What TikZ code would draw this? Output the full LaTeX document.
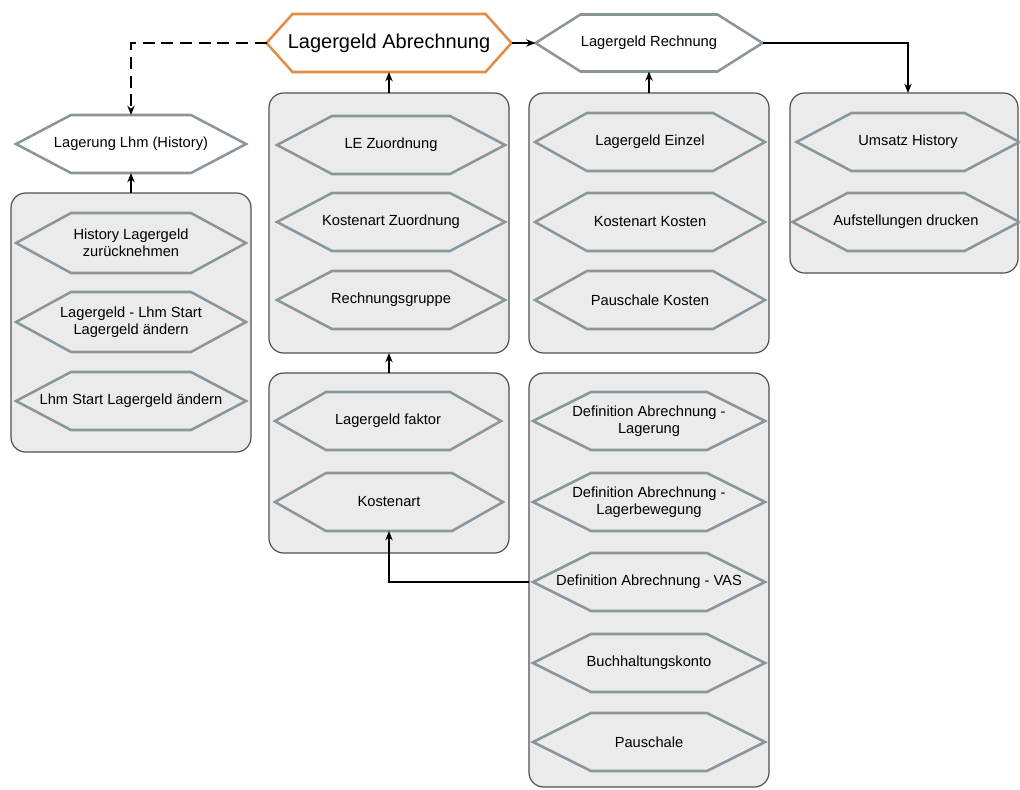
\documentclass[tikz,border=0pt]{standalone}
\usepackage{fontspec}
\setmainfont{Liberation Sans}
\usetikzlibrary{arrows.meta}
\definecolor{hexline}{RGB}{138,150,155}
\definecolor{boxfill}{RGB}{235,235,235}
\definecolor{boxline}{RGB}{80,80,80}
\definecolor{orangeline}{RGB}{226,140,70}

\tikzset{
	hex w/.store in=\hexw, hex h/.store in=\hexh, hex inset/.store in=\hexin,
	hex fill/.store in=\hexfill, hex draw/.store in=\hexdraw,
	hex w=230, hex h=58, hex inset=55, hex fill=boxfill, hex draw=hexline}

% hexagon with a named node on top: [keys]{name}{x,y}{text}
\newcommand{\hexnode}[4][]{%
	\begin{scope}[font=\fontsize{11}{13}\selectfont, #1]
		\draw[draw=\hexdraw, fill=\hexfill, line width=1.9pt, shift={(#3)}]
			(-\hexw/2,0) -- (-\hexw/2+\hexin,-\hexh/2) -- (\hexw/2-\hexin,-\hexh/2)
			-- (\hexw/2,0) -- (\hexw/2-\hexin,\hexh/2) -- (-\hexw/2+\hexin,\hexh/2) -- cycle;
		\node[hexa] (#2) at (#3) {#4};
	\end{scope}}

\begin{document}
\begin{tikzpicture}[x=0.75pt,y=-0.75pt,
		hexa/.style={rectangle, inner sep=0pt, outer sep=0pt, align=center,
			minimum width={\hexw*0.75pt}, minimum height={\hexh*0.75pt}},
		grp/.style={draw=boxline, fill=boxfill, line width=0.9pt, rounded corners=11pt,
			inner sep=0pt, outer sep=0pt, minimum width=180pt},
		arr/.style={-{Stealth[length=7pt,width=5.5pt]}, line width=1.1pt}]
	\useasboundingbox (0,0) rectangle (1020,789);

	% boxes
	\node[grp, minimum height=194.25pt] (boxL) at (131,322.5) {};
	\node[grp, minimum height=195pt] (boxM1) at (389,223) {};
	\node[grp, minimum height=135pt] (boxM2) at (389,463) {};
	\node[grp, minimum height=195pt] (boxR1) at (649,223) {};
	\node[grp, minimum height=310.5pt] (boxR2) at (649,580) {};
	\node[grp, minimum height=135pt, minimum width=171pt] (boxF) at (904,183) {};

	% top row
	\hexnode[hex fill=white, hex draw=orangeline, hex w=245, hex inset=26,
		font=\fontsize{15}{18}\selectfont]{abr}{389,43}{Lagergeld Abrechnung}
	\hexnode[hex fill=white, hex w=227, hex h=57, hex inset=45]{rech}{649,43}{Lagergeld Rechnung}
	\hexnode[hex fill=white]{lhm}{131,144}{Lagerung Lhm (History)}

	% left column
	\hexnode[hex h=60]{histlg}{131,243}{History Lagergeld\\zurücknehmen}
	\hexnode[hex h=60]{lgstart}{131,322}{Lagergeld - Lhm Start\\Lagergeld ändern}
	\hexnode{lhmstart}{131,401}{Lhm Start Lagergeld ändern}

	% middle column
	\hexnode[hex w=228]{lezu}{391,145}{LE Zuordnung}
	\hexnode[hex w=228]{kazu}{391,222}{Kostenart Zuordnung}
	\hexnode[hex w=228]{rgrp}{391,300}{Rechnungsgruppe}
	\hexnode[hex w=226, hex inset=51]{faktor}{388,421}{Lagergeld faktor}
	\hexnode[hex w=228, hex inset=51]{kosten}{389,502}{Kostenart}

	% right column
	\hexnode[hex inset=52]{einzel}{650,142}{Lagergeld Einzel}
	\hexnode[hex inset=52]{kakost}{650,222}{Kostenart Kosten}
	\hexnode[hex inset=52]{pkost}{650,300}{Pauschale Kosten}
	\hexnode[hex w=232, hex inset=58]{deflag}{649,421}{Definition Abrechnung -\\Lagerung}
	\hexnode[hex w=232, hex inset=58]{defbew}{649,502}{Definition Abrechnung -\\Lagerbewegung}
	\hexnode[hex w=232, hex inset=58]{vas}{649,582}{Definition Abrechnung - VAS}
	\hexnode[hex w=232, hex inset=58]{konto}{649,663}{Buchhaltungskonto}
	\hexnode[hex w=232, hex inset=58]{pausch}{649,742}{Pauschale}

	% far right
	\hexnode[hex w=223]{umsatz}{908,142}{Umsatz History}
	\hexnode[hex w=227]{aufst}{906,222}{Aufstellungen drucken}

	% connectors
	\draw[arr, dashed, dash pattern=on 9pt off 5pt] (abr.west) -| (lhm.north);
	\draw[arr] (boxL.north) -- (lhm.south);
	\draw[arr] (boxM1.north) -- (abr.south);
	\draw[arr] (boxM2.north) -- (boxM1.south);
	\draw[arr] (abr.east) -- (rech.west);
	\draw[arr] (boxR1.north) -- (rech.south);
	\draw[arr] (rech.east) -| (umsatz.north |- boxF.north);
	\draw[arr] (vas -| boxR2.west) -| (kosten.south);
\end{tikzpicture}
\end{document}
